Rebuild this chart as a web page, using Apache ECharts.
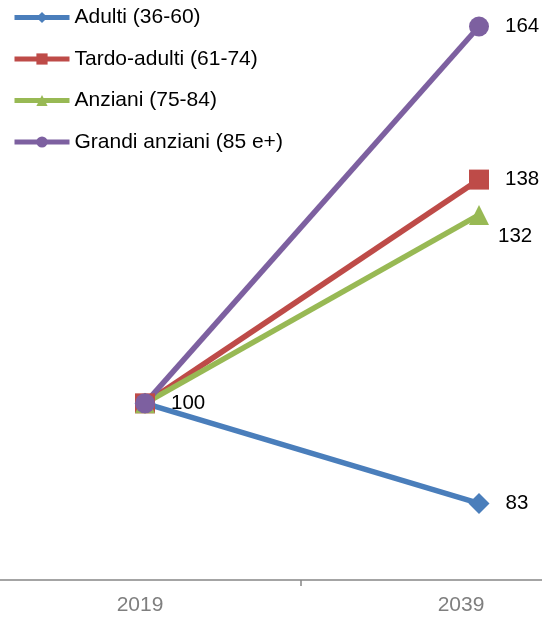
<!DOCTYPE html>
<html><head><meta charset="utf-8">
<script src="https://cdn.jsdelivr.net/npm/echarts@6/dist/echarts.min.js"></script>
<style>html,body{margin:0;padding:0;background:#fff}#c{width:542px;height:617px}</style>
</head><body><div id="c"></div>
<script>
const categories = ['2019', '2039'];
const seriesNames = ['Adulti (36-60)', 'Tardo-adulti (61-74)', 'Anziani (75-84)', 'Grandi anziani (85 e+)'];
const adulti = [100, 83];
const tardoAdulti = [100, 138];
const anziani = [100, 132];
const grandiAnziani = [100, 164];

const colors = ['#4A7EBB', '#BE4B48', '#98B954', '#7D60A0'];
const symbols = ['diamond', 'rect', 'triangle', 'circle'];
const values = [adulti, tardoAdulti, anziani, grandiAnziani];
const FONT = 'Liberation Sans, Arial, sans-serif';

const chart = echarts.init(document.getElementById('c'), null, {renderer: 'canvas'});
const series = values.map((v, i) => ({
  name: seriesNames[i],
  type: 'line',
  xAxisIndex: 1,
  yAxisIndex: 1,
  data: v,
  symbol: symbols[i],
  symbolSize: i === 0 ? 21 : 20,
  color: colors[i],
  lineStyle: {width: 5.5, color: colors[i]},
  itemStyle: {color: colors[i]},
  label: {
    show: true,
    position: 'right',
    distance: 16,
    offset: i === 2 ? [-7, 21] : [0, 0],
    color: '#000',
    fontSize: 20.5,
    fontFamily: FONT,
    formatter: p => (p.dataIndex === 1 || i === 3) ? String(p.value) : ''
  },
  emphasis: {disabled: true},
  animation: false
}));

chart.setOption({
  backgroundColor: '#fff',
  legend: {
    orient: 'vertical',
    left: 12,
    top: 7,
    padding: 0,
    itemWidth: 55,
    itemHeight: 14,
    itemGap: 20.5,
    lineStyle: {width: 5},
    textStyle: {color: '#000', fontSize: 21, fontFamily: FONT},
    data: seriesNames
  },
  grid: [
    {left: -20.5, width: 642, top: 0, height: 580, outerBoundsMode: 'none', containLabel: false},
    {left: 145, width: 334, top: 0, height: 580, outerBoundsMode: 'none', containLabel: false}
  ],
  xAxis: [
    {
      type: 'category', gridIndex: 0, data: categories, boundaryGap: true,
      axisLine: {lineStyle: {color: '#868686', width: 1.5}},
      axisTick: {show: true, length: 6, lineStyle: {color: '#868686', width: 1.5}},
      axisLabel: {color: '#7F7F7F', fontSize: 21, fontFamily: FONT, margin: 15},
      splitLine: {show: false}
    },
    {
      type: 'category', gridIndex: 1, data: categories, boundaryGap: false,
      show: false
    }
  ],
  yAxis: [
    {type: 'value', gridIndex: 0, min: 70, max: 168.5, show: false, splitLine: {show: false}},
    {type: 'value', gridIndex: 1, min: 70, max: 168.5, show: false, splitLine: {show: false}}
  ],
  series: series
});
</script></body></html>
